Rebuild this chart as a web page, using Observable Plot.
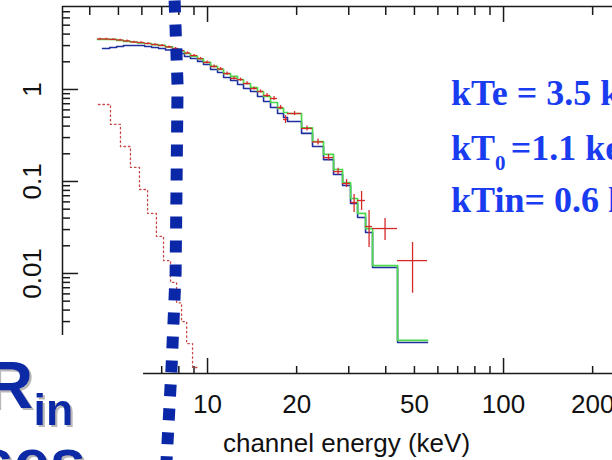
<!DOCTYPE html>
<html><head><meta charset="utf-8">
<script src="https://cdn.jsdelivr.net/npm/d3@7"></script>
<script src="https://cdn.jsdelivr.net/npm/@observablehq/plot@0.6"></script>
<style>
html,body{margin:0;padding:0;background:#fff;}
#wrap{position:relative;width:612px;height:460px;overflow:hidden;background:#fff;}
#wrap svg{position:absolute;left:0;top:0;}
</style></head><body><div id="wrap"></div>
<script>
// ---- channel bins (keV) and model / data values (counts) ----
const binEdges = [4.25,4.42,4.67,4.93,5.20,5.49,5.80,6.13,6.47,6.83,7.21,7.62,7.98,8.36,8.76,9.25,9.69,10.24,10.81,11.33,11.96,12.63,13.23,13.97,14.75,15.46,16.32,17.24,18.06,18.63,20.78,22.63,24.65,26.65,28.59,30.42,32.13,34.19,36.10,43.85,55.37];
const totalModel = [3.50,3.50,3.50,3.41,3.33,3.28,3.20,3.16,3.08,3.01,2.90,2.76,2.62,2.46,2.31,2.15,1.97,1.78,1.65,1.49,1.385,1.284,1.162,1.051,0.951,0.839,0.722,0.622,0.562,0.548,0.382,0.272,0.197,0.135,0.0975,0.0653,0.0449,0.0308,0.0122,0.00187];
const comptModel = [null,2.79,2.86,2.93,3.01,3.01,3.01,2.93,2.86,2.79,2.69,2.59,2.46,2.28,2.17,2.02,1.87,1.65,1.53,1.35,1.25,1.133,1.025,0.951,0.839,0.741,0.637,0.548,0.496,0.449,0.333,0.240,0.173,0.119,0.0905,0.0577,0.0406,0.0279,0.0116,0.00178];
const dataValue = [3.54,3.54,3.50,3.45,3.37,3.28,3.24,3.16,3.08,3.01,2.90,2.79,2.65,2.49,2.34,2.17,1.97,1.78,1.67,1.49,1.32,1.28,1.16,1.025,0.951,0.861,0.798,0.637,0.472,0.548,0.377,0.269,0.182,0.128,0.095,0.0591,0.0621,0.0324,0.0308,0.0138];
const dataLow = [3.47,3.47,3.43,3.38,3.30,3.21,3.17,3.09,3.01,2.94,2.83,2.72,2.58,2.43,2.28,2.11,1.90,1.71,1.61,1.43,1.27,1.23,1.12,0.985,0.915,0.82,0.76,0.605,0.427,0.52,0.353,0.249,0.168,0.118,0.086,0.046,0.0484,0.0192,0.0228,0.0061];
const dataHigh = [3.61,3.61,3.57,3.52,3.44,3.35,3.31,3.23,3.15,3.08,2.97,2.86,2.72,2.56,2.40,2.23,2.04,1.85,1.73,1.55,1.37,1.33,1.21,1.065,0.99,0.905,0.84,0.67,0.52,0.575,0.402,0.29,0.197,0.139,0.105,0.0722,0.0778,0.0484,0.0396,0.0217];
const diskEdges = [4.28,4.70,5.08,5.49,5.89,6.27,6.72,7.10,7.50,7.86,8.17,8.50,8.90,9.25];
const diskModel = [0.687,0.417,0.240,0.142,0.0818,0.0449,0.0253,0.0138,0.0080,0.0048,0.0030,0.00173,0.00095];
// annotation: thick dotted marker (keV, counts)
const markerEnergy = [7.74,7.92,7.86,7.80,7.55,7.27];
const markerCounts = [9.26,1.105,0.1025,0.01,0.000882,0.0000927];
// ticks
const xTickLabels = [10,20,50,100,200];
const xMajorTicks = [10,100];
const xTopMinor = [4,5,6,7,8,9,20,30,40,50,60,70,80,90,200];
const xBottomMinor = [7,8,9,20,30,40,50,60,70,80,90,200];
const yTickLabels = [1,0.1,0.01];
const yMajorTicks = [0.01,0.1,1];
const yMinorTicks = [0.003,0.004,0.005,0.006,0.007,0.008,0.009,0.02,0.03,0.04,0.05,0.06,0.07,0.08,0.09,0.2,0.3,0.4,0.5,0.6,0.7,0.8,0.9,2,3,4,5,6,7];
const xDomain = [3.236, 233.4];
const yDomain = [0.000818, 7.98];
const leftAxisEnd = 0.00212;
const bottomAxisStart = 6.08;

// ---- build rows ----
function stepRows(edges, vals){
  const rows=[];
  vals.forEach((v,i)=>{ if(v!=null) rows.push({x:edges[i],y:v}); });
  const last = vals.length-1;
  rows.push({x:edges[last+1], y:vals[last]});
  return rows;
}
const greenRows = stepRows(binEdges,totalModel);
const blueRows = stepRows(binEdges,comptModel);
const diskRows = stepRows(diskEdges,diskModel);
const dataRows = dataValue.map((v,i)=>({e0:binEdges[i],e1:binEdges[i+1],ec:Math.sqrt(binEdges[i]*binEdges[i+1]),v,lo:dataLow[i],hi:dataHigh[i]}));
const markerRows = markerEnergy.map((e,i)=>({x:e,y:markerCounts[i]}));

const W=612,H=460,mL=62,mR=0,mT=6,mB=87;
const frameW=W-mL-mR, frameH=H-mT-mB;
const axisColor="#1a1a1a";
const font="Liberation Sans, Arial, Helvetica, sans-serif";

const chart = Plot.plot({
  width:W, height:H, marginLeft:mL, marginRight:mR, marginTop:mT, marginBottom:mB,
  x:{type:"log", domain:xDomain, axis:null},
  y:{type:"log", domain:yDomain, axis:null},
  style:{background:"transparent", fontFamily:font, color:"#111"},
  marks:[
    Plot.ruleX([xDomain[0]],{y1:leftAxisEnd,y2:yDomain[1],stroke:axisColor,strokeWidth:1.5}),
    Plot.ruleY([yDomain[1]],{x1:xDomain[0],x2:xDomain[1],stroke:axisColor,strokeWidth:1.5}),
    Plot.ruleY([yDomain[0]],{x1:bottomAxisStart,x2:xDomain[1],stroke:axisColor,strokeWidth:1.5}),
    Plot.tickY(yMajorTicks,{y:d=>d,insetRight:frameW-16,stroke:axisColor,strokeWidth:1.5}),
    Plot.tickY(yMinorTicks.filter(d=>d>leftAxisEnd),{y:d=>d,insetRight:frameW-8,stroke:axisColor,strokeWidth:1.5}),
    Plot.tickX(xMajorTicks,{x:d=>d,insetBottom:frameH-16,stroke:axisColor,strokeWidth:1.5}),
    Plot.tickX(xTopMinor,{x:d=>d,insetBottom:frameH-9,stroke:axisColor,strokeWidth:1.5}),
    Plot.tickX(xMajorTicks,{x:d=>d,insetTop:frameH-15,stroke:axisColor,strokeWidth:1.5}),
    Plot.tickX(xBottomMinor,{x:d=>d,insetTop:frameH-7,stroke:axisColor,strokeWidth:1.5}),
    Plot.text(xTickLabels,{x:d=>d,text:d=>String(d),frameAnchor:"bottom",dy:39,lineAnchor:"bottom",fontSize:26,fill:"#111"}),
    Plot.text(yTickLabels,{y:d=>d,text:d=>String(d),frameAnchor:"left",dx:-22,rotate:-90,lineAnchor:"bottom",textAnchor:"middle",fontSize:26,fill:"#111"}),
    Plot.text(["channel energy (keV)"],{frameAnchor:"bottom",dx:9,dy:78,lineAnchor:"bottom",fontSize:26,fill:"#111"}),
    Plot.line(diskRows,{x:"x",y:"y",curve:"step-after",stroke:"#c84848",strokeWidth:1.3,strokeDasharray:"1.5,3"}),
    Plot.line(blueRows,{x:"x",y:"y",curve:"step-after",stroke:"#1f2fa0",strokeWidth:1.6}),
    Plot.line(greenRows,{x:"x",y:"y",curve:"step-after",stroke:"#4cd84c",strokeWidth:1.7}),
    Plot.ruleY(dataRows,{y:"v",x1:"e0",x2:"e1",stroke:"#d42a2a",strokeWidth:1.3}),
    Plot.ruleX(dataRows,{x:"ec",y1:"lo",y2:"hi",stroke:"#d42a2a",strokeWidth:1.3}),
    Plot.line(markerRows,{x:"x",y:"y",stroke:"#0a27a8",strokeWidth:12,strokeDasharray:"12,12",strokeLinecap:"butt"})
  ]
});
const wrap=document.getElementById("wrap");
wrap.appendChild(chart);

// ---- slide annotations ----
const ov=d3.select(wrap).append("svg").attr("width",W).attr("height",H);
const defs=ov.append("defs");
const f=defs.append("filter").attr("id","shadow").attr("x","-20%").attr("y","-20%").attr("width","150%").attr("height","150%");
f.append("feDropShadow").attr("dx",2).attr("dy",2).attr("stdDeviation",0.6).attr("flood-color","#b8b8b8").attr("flood-opacity",1);

const tcol="#1a3cf0";
const g1=ov.append("g").attr("font-family","Liberation Serif, Times New Roman, serif").attr("font-weight","bold").attr("fill",tcol).attr("font-size",36);
g1.append("text").attr("x",451).attr("y",105).text("kTe = 3.5 keV");
const t2=g1.append("text").attr("x",451).attr("y",160);
t2.append("tspan").text("kT");
t2.append("tspan").attr("font-size",21).attr("dy",10).text("0 ");
t2.append("tspan").attr("dy",-10).text("=1.1 keV");
g1.append("text").attr("x",451).attr("y",212).text("kTin= 0.6 keV");

const rcol="#0b2aa6";
const g2=ov.append("g").attr("font-family","Liberation Sans, Arial, sans-serif").attr("font-weight","bold").attr("fill",rcol).attr("filter","url(#shadow)");
const t=g2.append("text").attr("x",-15).attr("y",408);
t.append("tspan").attr("font-size",67).text("R");
t.append("tspan").attr("font-size",45).attr("dy",17).text("in");
g2.append("text").attr("x",86).attr("y",484).attr("text-anchor","end").attr("font-size",65).text("decreases");
</script></body></html>
